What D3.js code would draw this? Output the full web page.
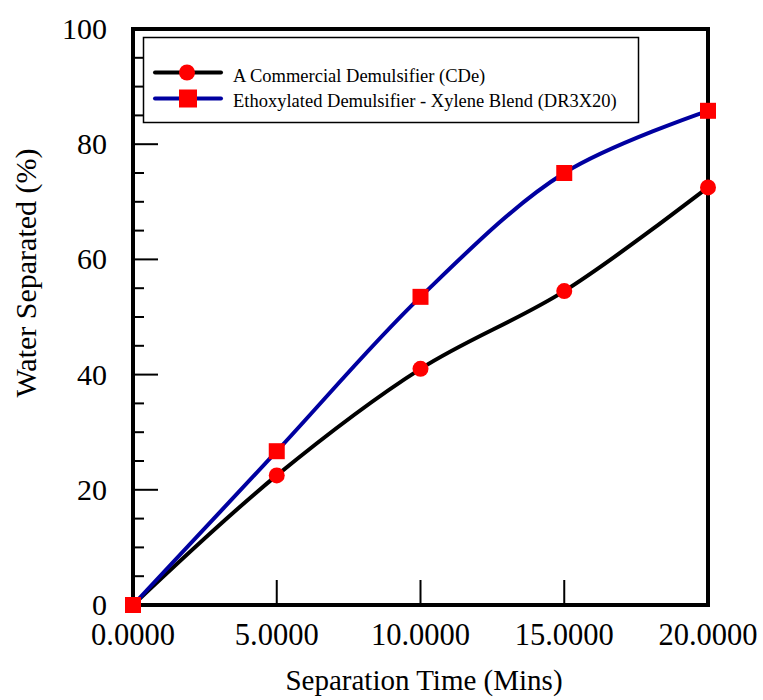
<!DOCTYPE html>
<html><head><meta charset="utf-8">
<script src="https://cdn.jsdelivr.net/npm/d3@7"></script>
<style>
body{margin:0;background:#fff;font-family:'Liberation Serif','Times New Roman',Tinos,FreeSerif,serif}
svg{display:block;font-family:'Liberation Serif','Times New Roman',Tinos,FreeSerif,serif}
svg text{font-family:'Liberation Serif','Times New Roman',Tinos,FreeSerif,serif}
</style>
</head><body><svg id="c" width="763" height="700"></svg>
<script>
const times = [0, 5, 10, 15, 20];
const cdeValues = [0, 22.5, 41, 54.5, 72.5];
const dr3x20Values = [0, 26.7, 53.5, 75, 85.8];
const seriesNames = ["A Commercial Demulsifier (CDe)", "Ethoxylated Demulsifier - Xylene Blend (DR3X20)"];
const xTickValues = [0, 5, 10, 15, 20];
const yTickValues = [0, 20, 40, 60, 80, 100];

const FONT = "'Liberation Serif', 'Times New Roman', Tinos, FreeSerif, serif";
const svg = d3.select("#c");
const L = 133, R = 708, T = 29, B = 605;
const x = d3.scaleLinear().domain([0, 20]).range([L, R]);
const y = d3.scaleLinear().domain([0, 100]).range([B, T]);

const minorY = d3.range(0, 101, 5).filter(v => v % 20 !== 0);
svg.append("g").selectAll("line").data(minorY).join("line")
  .attr("x1", L).attr("x2", L + 11).attr("y1", d => y(d)).attr("y2", d => y(d))
  .attr("stroke", "#000").attr("stroke-width", 2);
svg.append("g").selectAll("line").data(yTickValues.filter(v => v > 0 && v < 100)).join("line")
  .attr("x1", L).attr("x2", L + 25).attr("y1", d => y(d)).attr("y2", d => y(d))
  .attr("stroke", "#000").attr("stroke-width", 2);
svg.append("g").selectAll("line").data(xTickValues.filter(v => v > 0 && v < 20)).join("line")
  .attr("x1", d => x(d)).attr("x2", d => x(d)).attr("y1", B).attr("y2", B - 25)
  .attr("stroke", "#000").attr("stroke-width", 2);

svg.append("g").selectAll("text").data(yTickValues).join("text")
  .style("font-family", FONT)
  .attr("x", 107).attr("y", d => y(d) + 10).attr("text-anchor", "end")
  .style("font-size", "30px").text(d => d);
svg.append("g").selectAll("text").data(xTickValues).join("text")
  .style("font-family", FONT)
  .attr("x", d => x(d)).attr("y", 645).attr("text-anchor", "middle")
  .style("font-size", "30.5px").text(d => d.toFixed(4));

svg.append("text").style("font-family", FONT).attr("x", 424).attr("y", 690).attr("text-anchor", "middle")
  .style("font-size", "29px").text("Separation Time (Mins)");
svg.append("text").style("font-family", FONT).attr("transform", "translate(36," + 273 + ") rotate(-90)")
  .attr("text-anchor", "middle").style("font-size", "30px").text("Water Separated (%)");

const line = d3.line().x(d => x(d[0])).y(d => y(d[1])).curve(d3.curveCatmullRom.alpha(0.5));
const cde = times.map((t, i) => [t, cdeValues[i]]);
const dr = times.map((t, i) => [t, dr3x20Values[i]]);
svg.append("path").attr("d", line(cde)).attr("fill", "none").attr("stroke", "#000").attr("stroke-width", 4);
svg.append("path").attr("d", line(dr)).attr("fill", "none").attr("stroke", "#0000a0").attr("stroke-width", 4);

svg.append("rect").attr("x", L).attr("y", T).attr("width", R - L).attr("height", B - T)
  .attr("fill", "none").attr("stroke", "#000").attr("stroke-width", 4);

svg.append("g").selectAll("circle").data(cde).join("circle")
  .attr("cx", d => x(d[0])).attr("cy", d => y(d[1])).attr("r", 8).attr("fill", "#ff0000");
svg.append("g").selectAll("rect").data(dr).join("rect")
  .attr("x", d => x(d[0]) - 8).attr("y", d => y(d[1]) - 8).attr("width", 16).attr("height", 16).attr("fill", "#ff0000");

const lg = svg.append("g");
lg.append("rect").attr("x", 143.5).attr("y", 37.5).attr("width", 495).attr("height", 85)
  .attr("fill", "#fff").attr("stroke", "#000").attr("stroke-width", 1.5);
const ly = [72.5, 98.5];
lg.append("line").attr("x1", 155).attr("x2", 221).attr("y1", ly[0]).attr("y2", ly[0]).attr("stroke", "#000").attr("stroke-width", 4).attr("stroke-linecap", "round");
lg.append("circle").attr("cx", 187).attr("cy", ly[0]).attr("r", 8).attr("fill", "#ff0000");
lg.append("line").attr("x1", 155).attr("x2", 221).attr("y1", ly[1]).attr("y2", ly[1]).attr("stroke", "#0000a0").attr("stroke-width", 4).attr("stroke-linecap", "round");
lg.append("rect").attr("x", 179).attr("y", ly[1] - 9).attr("width", 18).attr("height", 18).attr("fill", "#ff0000");
lg.selectAll("text.l").data(seriesNames).join("text").attr("class", "l")
  .style("font-family", FONT)
  .attr("x", 233).attr("y", (d, i) => [82, 107][i]).style("font-size", "18.5px").text(d => d);
</script></body></html>
